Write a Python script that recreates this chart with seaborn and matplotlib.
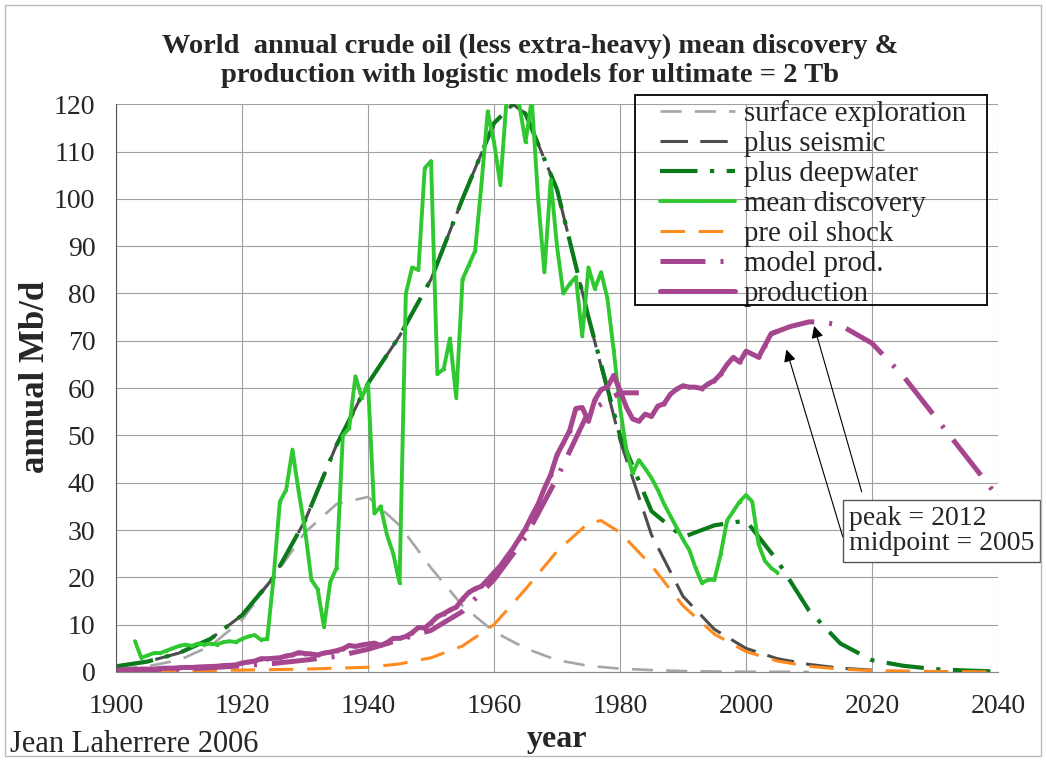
import matplotlib
matplotlib.use("Agg")
import matplotlib.pyplot as plt
import matplotlib.patches as patches
import seaborn as sns

# mean discovery, annual
disc_years = list(range(1903, 2006))
disc_vals = [6.5, 3, 3.5, 4, 4, 4.5, 5, 5.5, 5.8, 5.5, 6, 5.8, 6, 5.8, 6.3, 6.5, 6.3, 7, 7.5, 7.8,
             6.8, 7, 20, 36, 38.5, 47, 38, 30, 19.5, 17.5, 9.5, 19, 22, 50, 51.5, 62.5, 58, 61, 33.5, 35,
             29, 25, 18.8, 80, 85.5, 85, 106.5, 108, 63, 64, 70.5, 58, 83, 86, 89, 103, 118.5, 112, 103,
             121, 121, 120, 112, 121, 100, 84.5, 104, 90, 80, 82, 83.5, 71, 85.5, 81, 84.5, 79, 68, 56,
             47, 42, 44.8, 43, 41, 38.5, 35.5, 33, 30.5, 28, 25.8, 22, 18.8, 19.5, 19.5, 25, 32, 34, 36,
             37.4, 36, 27, 23.5, 22, 21]

# production, annual
prod_years = list(range(1900, 2006))
prod_vals = [0.4, 0.45, 0.5, 0.55, 0.6, 0.6, 0.6, 0.75, 0.8, 0.8, 0.9, 0.95, 0.95, 1.05, 1.1, 1.15,
             1.2, 1.35, 1.4, 1.5, 1.9, 2.1, 2.3, 2.8, 2.8, 2.9, 3.0, 3.4, 3.6, 4.1, 3.9, 3.8, 3.6, 4.0,
             4.2, 4.5, 4.9, 5.6, 5.4, 5.7, 5.9, 6.1, 5.6, 6.2, 7.1, 7.1, 7.5, 8.3, 9.4, 9.3, 10.4, 11.7,
             12.3, 13.1, 13.7, 15.4, 16.8, 17.6, 18.1, 19.5, 21.0, 22.4, 24.3, 26.1, 28.2, 30.3, 33,
             35.5, 38.8, 41.7, 45.9, 48.4, 51, 55.7, 55.9, 53, 57.5, 59.7, 60.2, 62.7, 59.5, 56, 53.5,
             53, 54.5, 54, 56.2, 56.7, 58.7, 59.8, 60.5, 60.2, 60.2, 59.9, 60.9, 61.6, 63, 65, 66.5,
             65.5, 67.8, 67.2, 66.5, 69, 71.5, 72]

# logistic models
surf_years = [1900, 1905, 1910, 1915, 1920, 1925, 1930, 1935, 1940, 1945, 1950, 1955, 1960,
              1965, 1970, 1975, 1980, 1985, 1990, 1995, 2000, 2005, 2010]
surf_vals = [0.6, 1.2, 2.5, 5.5, 11, 20, 29.5, 35.5, 37, 31, 22, 14, 8.5, 5, 2.5, 1.3, 0.7, 0.4,
             0.2, 0.1, 0.05, 0.03, 0.01]

seis_years = [1900, 1905, 1910, 1915, 1920, 1925, 1930, 1935, 1940, 1945, 1950, 1955, 1960, 1963,
              1965, 1970, 1975, 1980, 1985, 1990, 1995, 2000, 2005, 2010, 2015, 2020]
seis_vals = [1.2, 2.2, 4, 7, 12, 20, 32, 48, 61, 71, 83, 100, 116, 120, 118, 102, 75, 49, 29, 16,
             9, 5, 2.8, 1.6, 0.8, 0.4]

deep_years = [1900, 1905, 1910, 1915, 1920, 1925, 1930, 1935, 1940, 1945, 1950, 1955, 1960, 1963,
              1965, 1970, 1975, 1980, 1985, 1990, 1995, 2000, 2005, 2010, 2015, 2020, 2025, 2030,
              2035, 2040]
deep_vals = [1.2, 2.2, 4, 7, 12, 20, 32, 48, 61, 71, 83, 100, 116, 120, 118, 102, 75, 50, 34, 28.5,
             31, 32, 23.5, 13, 6, 2.5, 1.3, 0.6, 0.3, 0.1]

shock_years = [1900, 1910, 1920, 1930, 1940, 1945, 1950, 1955, 1960, 1965, 1970, 1975, 1977, 1980,
               1985, 1990, 1995, 2000, 2005, 2010, 2015, 2020, 2030, 2040]
shock_vals = [0.1, 0.2, 0.4, 0.6, 1, 1.7, 3, 5.5, 10, 17.5, 25.5, 31.5, 32, 29.5, 22.5, 14, 8, 4.3,
              2.3, 1.2, 0.6, 0.3, 0.1, 0.03]

# model prod. is visible in two pieces: before 1983 and after 2004
model_early_years = [1900, 1905, 1910, 1915, 1920, 1925, 1930, 1935, 1940, 1945, 1950, 1955, 1960,
                     1965, 1970, 1975, 1980, 1983]
model_early_vals = [0.2, 0.35, 0.6, 0.9, 1.3, 1.8, 2.5, 3.3, 4.8, 6.8, 8.8, 12.8, 19.5, 28.5, 41,
                    55, 59, 59]
model_late_years = [2004, 2007, 2010, 2012, 2015, 2020, 2025, 2030, 2035, 2040]
model_late_vals = [71.5, 73, 74, 74, 73.3, 69.5, 62.5, 54, 45.5, 37]

sns.set_style("white")
plt.rcParams['font.family'] = ['Liberation Serif', 'DejaVu Serif']

fig = plt.figure(figsize=(10.46, 7.61), dpi=100)
ax = fig.add_axes([0.111, 0.117, 0.843, 0.746])

purple = '#a6468f'
sns.lineplot(x=surf_years, y=surf_vals, ax=ax, color='#a6a6a6', linewidth=1.9,
             dashes=(8, 5), label='surface exploration')
sns.lineplot(x=seis_years, y=seis_vals, ax=ax, color='#4d4d4d', linewidth=2.2,
             dashes=(9, 4), label='plus seismic')
sns.lineplot(x=deep_years, y=deep_vals, ax=ax, color='#0b7a1a', linewidth=3.0,
             dashes=(9, 3, 1.0, 3), label='plus deepwater')
sns.lineplot(x=disc_years, y=disc_vals, ax=ax, color='#30c830', linewidth=2.8,
             marker='o', markersize=2.5, markeredgewidth=0, label='mean discovery')
sns.lineplot(x=shock_years, y=shock_vals, ax=ax, color='#ff8a1e', linewidth=2.2,
             dashes=(8, 4.5), label='pre oil shock')
sns.lineplot(x=model_early_years, y=model_early_vals, ax=ax, color=purple, linewidth=3.6,
             dashes=(9, 3, 0.6, 3), label='model prod.')
sns.lineplot(x=model_late_years, y=model_late_vals, ax=ax, color=purple, linewidth=3.6,
             dashes=(9, 3, 0.6, 3), label='_nolegend_')
sns.lineplot(x=prod_years, y=prod_vals, ax=ax, color=purple, linewidth=3.6,
             marker='o', markersize=3, markeredgewidth=0, label='production')

ax.set_xlim(1900, 2040)
ax.set_ylim(0, 120)
ax.set_xticks(range(1900, 2041, 20))
ax.set_yticks(range(0, 121, 10))
ax.grid(True, color='#a0a0a0', linewidth=0.8)
ax.tick_params(axis='both', labelsize=20, length=5, color='#777777', direction='out')
ax.tick_params(axis='x', pad=16, length=0)
ax.tick_params(axis='y', pad=10)
for s in ['top', 'right']:
    ax.spines[s].set_visible(False)
ax.spines['left'].set_color('#555555')
ax.spines['bottom'].set_color('#888888')

ax.set_xlabel('year', fontsize=23, fontweight='bold', labelpad=4)
ax.set_ylabel('annual Mb/d', fontsize=25, fontweight='bold', labelpad=1)
ax.yaxis.label.set_y(0.52)

# legend: box drawn separately so the padding around the entries matches
leg = ax.legend(loc='upper left', bbox_to_anchor=(660 / 1046, 1 - 100 / 761),
                bbox_transform=fig.transFigure, borderaxespad=0, borderpad=0,
                fontsize=20.8, frameon=False, handlelength=2.6, labelspacing=0.13,
                handletextpad=0.3)
fig.patches.append(patches.Rectangle((635 / 1046, 1 - 305 / 761), 352 / 1046, 210 / 761,
                                     transform=fig.transFigure, fill=False,
                                     edgecolor='black', linewidth=1.3, zorder=1))
fig.patches.append(patches.Rectangle((635 / 1046, 1 - 305 / 761), 352 / 1046, 210 / 761,
                                     transform=fig.transFigure, facecolor='white',
                                     edgecolor='none', zorder=0.5))
ax.set_zorder(0.6)
ax.patch.set_alpha(0)
leg.set_zorder(10)

# peak / midpoint annotation
ax.annotate('', xy=(2010.7, 73.7), xytext=(2018.5, 37.5),
            arrowprops=dict(arrowstyle='-|>', color='black', lw=0.8, mutation_scale=18))
ax.annotate('', xy=(2006.3, 68.7), xytext=(2015.5, 28),
            arrowprops=dict(arrowstyle='-|>', color='black', lw=0.8, mutation_scale=18))
ax.text(2016.3, 29.8, 'peak = 2012\nmidpoint = 2005', fontsize=20, va='center', ha='left',
        clip_on=False, linespacing=1.05,
        bbox=dict(boxstyle='square,pad=0.2', facecolor='white', edgecolor='#555555', linewidth=1))

fig.text(0.507, 0.92, 'World  annual crude oil (less extra-heavy) mean discovery &\n'
         'production with logistic models for ultimate = 2 Tb',
         ha='center', va='center', fontsize=20.5, fontweight='bold', linespacing=1.2)
fig.text(0.01, 0.003, 'Jean Laherrere 2006', fontsize=22, ha='left', va='bottom')

fig.patches.append(patches.Rectangle((0.005, 0.006), 0.99, 0.988, transform=fig.transFigure,
                                     fill=False, edgecolor='#bbbbbb', linewidth=1))

plt.savefig('out.png', dpi=100)
